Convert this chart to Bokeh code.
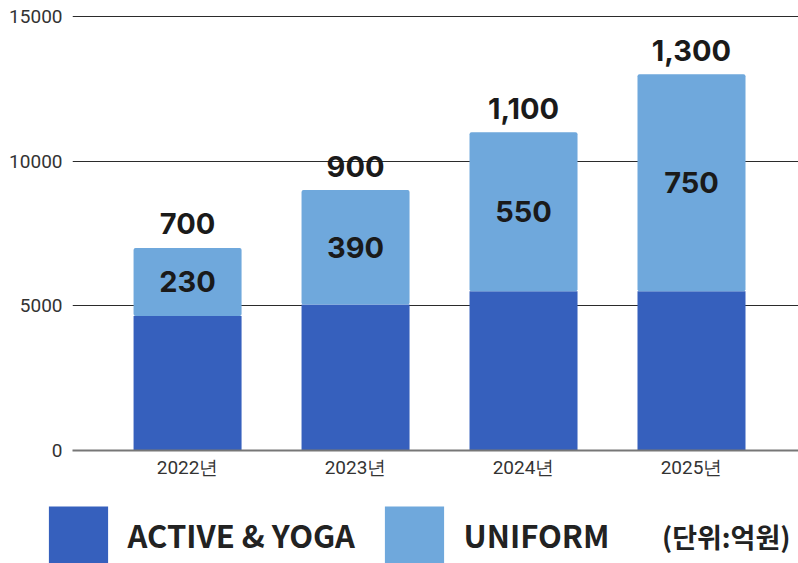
from bokeh.plotting import figure
from bokeh.layouts import column
from bokeh.models import (Range1d, FixedTicker, Legend, LegendItem, Label,
                          ColumnDataSource)
from bokeh.core.properties import value
from bokeh.embed import file_html
from bokeh.resources import INLINE

# ---- data ----
years = ["2022년", "2023년", "2024년", "2025년"]
active = [4650, 5050, 5500, 5500]
uniform = [2350, 3950, 5500, 7500]
uniform_labels = ["230", "390", "550", "750"]
total_labels = ["700", "900", "1,100", "1,300"]
y_ticks = [0, 5000, 10000, 15000]
series_names = ["ACTIVE & YOGA", "UNIFORM"]
unit_text = "(단위:억원)"

DARK = "#3660BD"
LIGHT = "#6FA8DC"
TXT = "#1a1a1a"

x = list(range(len(years)))
totals = [a + u for a, u in zip(active, uniform)]
mids = [a + u / 2 for a, u in zip(active, uniform)]

src = ColumnDataSource(dict(x=x, active=active, uniform=uniform, total=totals,
                            mid=mids, ulab=uniform_labels, tlab=total_labels))

p = figure(width=798, height=495, output_backend="svg", toolbar_location=None,
           x_range=Range1d(-0.685, 3.637), y_range=Range1d(0, 15276),
           min_border_left=72, min_border_right=0, min_border_top=8,
           min_border_bottom=45)
p.outline_line_color = None
p.background_fill_color = "white"
p.border_fill_color = "white"

rs = p.vbar_stack(["active", "uniform"], x="x", width=0.643, color=[DARK, LIGHT],
                  line_color=None, source=src)
try:
    rs[1].glyph.border_radius = 2
except Exception:
    pass

p.text(x="x", y="mid", text="ulab", source=src, text_align="center",
       text_baseline="middle", text_font=value("Inter"), text_font_style="bold",
       text_font_size="29px", text_color=TXT)
p.text(x="x", y="total", text="tlab", source=src, text_align="center",
       text_baseline="middle", y_offset=-24, text_font=value("Inter"),
       text_font_style="bold", text_font_size="29px", text_color=TXT)

# axes
p.yaxis.ticker = FixedTicker(ticks=y_ticks)
p.ygrid.ticker = FixedTicker(ticks=y_ticks)
p.yaxis.axis_line_color = None
p.yaxis.major_tick_line_color = None
p.yaxis.minor_tick_line_color = None
p.yaxis.major_tick_out = 0
p.yaxis.major_tick_in = 0
p.yaxis.minor_tick_out = 0
p.yaxis.major_label_standoff = 10
p.yaxis.major_label_text_font = "Roboto"
p.yaxis.major_label_text_font_size = "19px"
p.yaxis.major_label_text_color = "#333333"

p.xaxis.ticker = FixedTicker(ticks=x)
p.xaxis.major_label_overrides = {i: years[i] for i in x}
p.xaxis.axis_line_color = "#777777"
p.xaxis.axis_line_width = 2
p.xaxis.major_tick_line_color = None
p.xaxis.minor_tick_line_color = None
p.xaxis.major_tick_out = 0
p.xaxis.major_tick_in = 0
p.xaxis.minor_tick_out = 0
p.xaxis.major_label_standoff = 5
p.xaxis.major_label_text_font = "Roboto"
p.xaxis.major_label_text_font_size = "19px"
p.xaxis.major_label_text_color = "#333333"

p.xgrid.visible = False
p.ygrid.grid_line_color = "#2b2b2b"
p.ygrid.grid_line_width = 1

# ---- legend strip ----
q = figure(width=798, height=68, output_backend="svg", toolbar_location=None,
           x_range=Range1d(0, 1), y_range=Range1d(0, 1),
           x_axis_location=None, y_axis_location=None,
           min_border_left=0, min_border_right=0, min_border_top=0,
           min_border_bottom=0)
q.grid.visible = False
q.outline_line_color = None

for fig in (p, q):
    try:
        fig.frame_align = False
    except Exception:
        pass

legend_src = ColumnDataSource(dict(x=[0], top=[0]))
legend_rs = [q.vbar(x="x", top="top", width=0.5, color=c, line_color=None,
                    source=legend_src)
             for c in (DARK, LIGHT)]


def make_legend(name, rend, loc):
    return Legend(items=[LegendItem(label=name, renderers=[rend])], location=loc,
                  orientation="horizontal", glyph_width=74, glyph_height=71,
                  label_standoff=13, padding=0, margin=0, spacing=0,
                  border_line_color=None, background_fill_alpha=0,
                  label_text_font="Noto Sans CJK KR",
                  label_text_font_style="bold", label_text_font_size="31px",
                  label_text_color="#222222")


q.add_layout(make_legend(series_names[0], legend_rs[0], (40.6, -7)))
q.add_layout(make_legend(series_names[1], legend_rs[1], (376.6, -7)))

q.add_layout(Label(x=790, y=27, x_units="screen", y_units="screen", text=unit_text,
                   text_align="right", text_baseline="middle",
                   text_font="Noto Sans CJK KR", text_font_style="bold",
                   text_font_size="27px", text_color="#222222"))

layout = column(p, q, spacing=0)
open("out.html", "w").write(file_html(layout, INLINE))
